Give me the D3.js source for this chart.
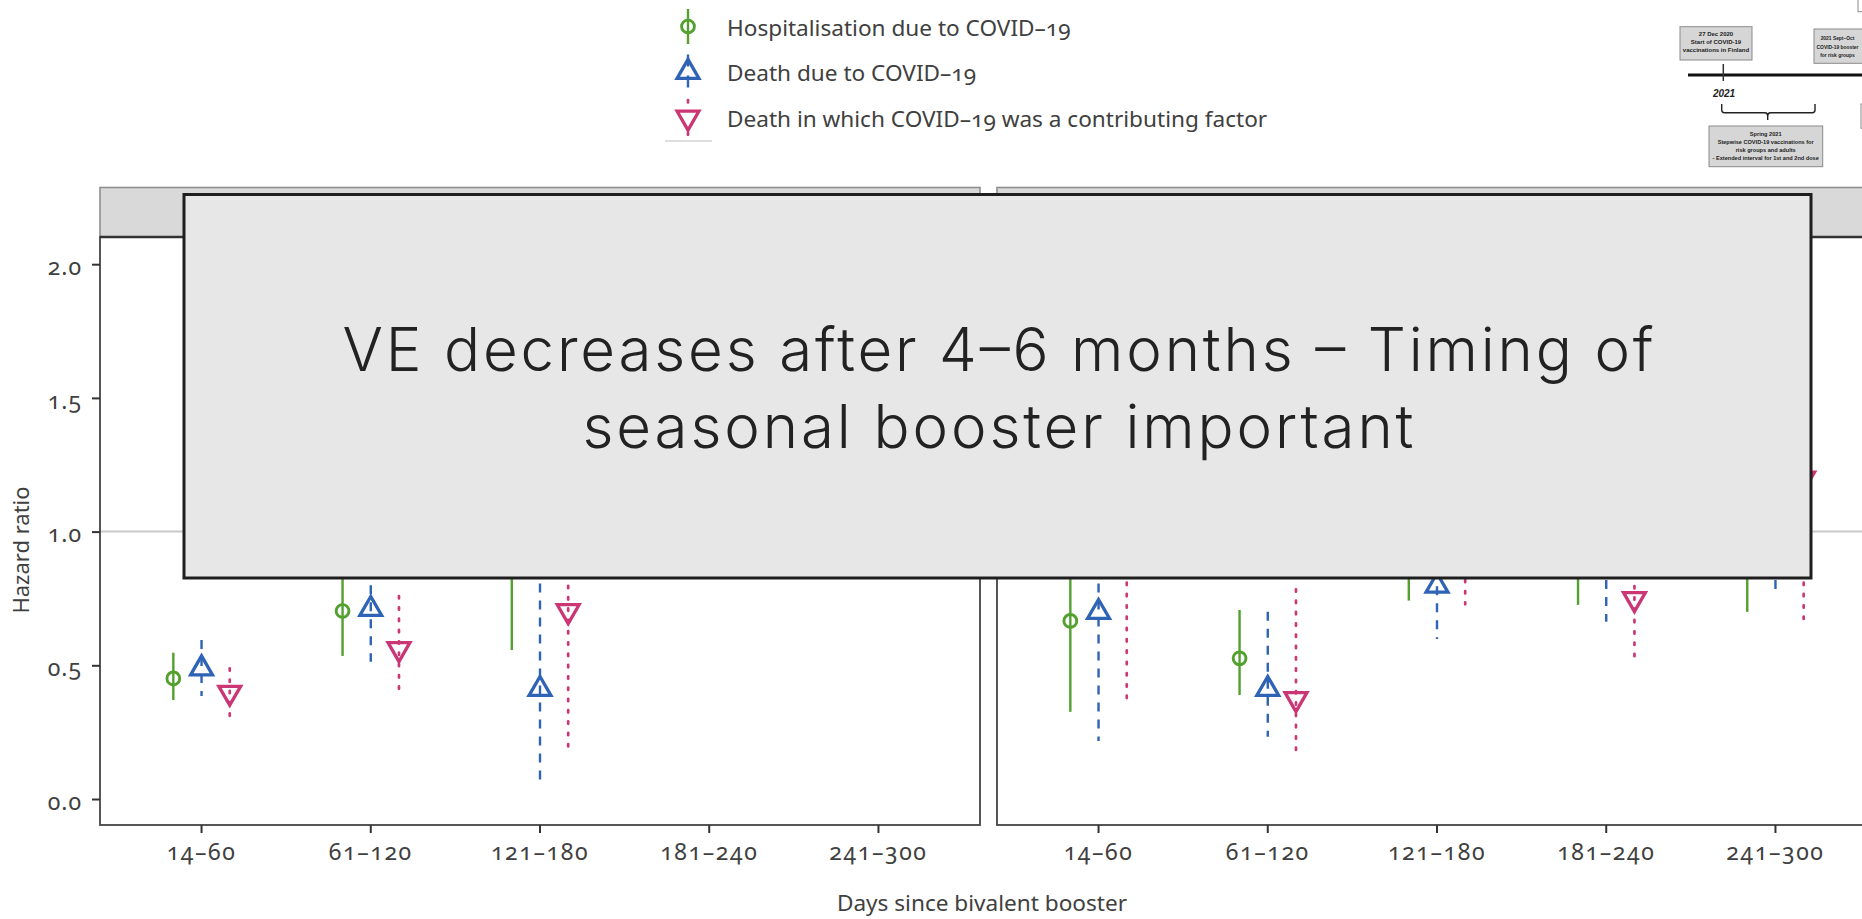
<!DOCTYPE html>
<html>
<head>
<meta charset="utf-8">
<script src="https://cdn.jsdelivr.net/npm/d3@7"></script>
<style>
  html, body { margin: 0; padding: 0; background: #ffffff; }
  svg { display: block; }
  .lbl { font-family: "Noto Sans", "Open Sans", sans-serif; font-variant-numeric: oldstyle-nums; fill: #404040; }
</style>
</head>
<body>
<svg id="chart" width="1862" height="919"></svg>
<script>
// ---------------- DATA ----------------
const categories = ["14–60", "61–120", "121–180", "181–240", "241–300"];
const seriesNames = [
  "Hospitalisation due to COVID–19",
  "Death due to COVID–19",
  "Death in which COVID–19 was a contributing factor"
];
const yTickValues = [0, 0.5, 1.0, 1.5, 2.0];
const yTickLabels = ["0.0", "0.5", "1.0", "1.5", "2.0"];
const referenceValue = 1.0;
const xAxisTitle = "Days since bivalent booster";
const yAxisTitle = "Hazard ratio";

// Left panel (estimate, lower, upper); null = not shown
const leftHospEst  = [0.451, 0.703, 0.90, null, null];
const leftHospLow  = [0.370, 0.535, 0.557, null, null];
const leftHospHigh = [0.547, 0.93, 1.35, null, null];
const leftDeathEst  = [0.488, 0.710, 0.411, null, null];
const leftDeathLow  = [0.385, 0.513, 0.052, null, null];
const leftDeathHigh = [0.595, 0.99, 1.95, null, null];
const leftContribEst  = [0.398, 0.561, 0.703, null, null];
const leftContribLow  = [0.308, 0.408, 0.165, null, null];
const leftContribHigh = [0.489, 0.759, 1.60, null, null];

// Right panel
const rightHospEst  = [0.666, 0.526, 0.95, 0.95, 0.95];
const rightHospLow  = [0.326, 0.389, 0.742, 0.726, 0.700];
const rightHospHigh = [1.20, 0.707, 1.20, 1.25, 1.30];
const rightDeathEst  = [0.699, 0.411, 0.797, 0.90, 0.95];
const rightDeathLow  = [0.217, 0.233, 0.598, 0.663, 0.769];
const rightDeathHigh = [1.95, 0.700, 1.05, 1.20, 1.20];
const rightContribEst  = [0.95, 0.374, 0.95, 0.748, 1.199];
const rightContribLow  = [0.358, 0.181, 0.728, 0.520, 0.673];
const rightContribHigh = [1.95, 0.784, 1.20, 1.05, 1.95];

const overlayLines = ["VE decreases after 4–6 months – Timing of", "seasonal booster important"];

// inset timeline texts
const insetBoxA = ["27 Dec 2020", "Start of COVID-19", "vaccinations in Finland"];
const insetBoxB = ["2021 Sept–Oct", "COVID-19 booster", "for risk groups"];
const insetBoxD = ["Spring 2021", "Stepwise COVID-19 vaccinations for", "risk groups and adults", "- Extended interval for 1st and 2nd dose"];
const insetYear = "2021";

// ---------------- STYLE ----------------
const colors = ["#52a02e", "#2e63b5", "#cb3675"];
const dashes = [null, "9,8", "2.4,8.9"];
const shapes = ["circle", "up", "down"];

const svg = d3.select("#chart");

const panels = [
  { x0: 100, x1: 980, est: [leftHospEst, leftDeathEst, leftContribEst], low: [leftHospLow, leftDeathLow, leftContribLow], high: [leftHospHigh, leftDeathHigh, leftContribHigh], showY: true },
  { x0: 997, x1: 1877, est: [rightHospEst, rightDeathEst, rightContribEst], low: [rightHospLow, rightDeathLow, rightContribLow], high: [rightHospHigh, rightDeathHigh, rightContribHigh], showY: false }
];
const stripTop = 187.5, panelTop = 237, panelBottom = 825;

const y = d3.scaleLinear().domain([-0.0972, 2.1017]).range([panelBottom, panelTop]);

function markerPath(shape, r) {
  const h = r * Math.sqrt(3) / 2;
  if (shape === "up") return `M0,${-r}L${h},${r/2}L${-h},${r/2}Z`;
  return `M0,${r}L${h},${-r/2}L${-h},${-r/2}Z`;
}
function drawMarker(g, shape, cx, cy, color) {
  if (shape === "circle") {
    g.append("circle").attr("cx", cx).attr("cy", cy).attr("r", 6.4)
      .attr("fill", "none").attr("stroke", color).attr("stroke-width", 2.9);
  } else {
    g.append("path").attr("d", markerPath(shape, 12.6))
      .attr("transform", `translate(${cx},${cy})`)
      .attr("fill", "none").attr("stroke", color).attr("stroke-width", 3.3)
      .attr("stroke-linejoin", "miter");
  }
}

const defs = svg.append("defs");

panels.forEach((p, pi) => {
  const clipId = "clip" + pi;
  defs.append("clipPath").attr("id", clipId).append("rect")
    .attr("x", p.x0).attr("y", panelTop).attr("width", p.x1 - p.x0).attr("height", panelBottom - panelTop);

  // ggplot discrete expansion: 0.6 units each side over 5 categories
  const step = (p.x1 - p.x0) / (categories.length + 0.2);
  const x = d3.scaleBand().domain(categories).range([p.x0 + 0.1 * step, p.x1 - 0.1 * step]).padding(0);
  const cxOf = c => x(c) + x.bandwidth() / 2;
  const dodge = x.step() * 0.5 / 3;

  const g = svg.append("g");
  // strip
  g.append("rect").attr("x", p.x0).attr("y", stripTop).attr("width", p.x1 - p.x0).attr("height", panelTop - stripTop)
    .attr("fill", "#d9d9d9").attr("stroke", "#8f8f8f").attr("stroke-width", 1.6);

  // reference line
  g.append("line").attr("x1", p.x0).attr("x2", p.x1).attr("y1", y(referenceValue)).attr("y2", y(referenceValue))
    .attr("stroke", "#c9c9c9").attr("stroke-width", 2);

  // data
  const dg = g.append("g").attr("clip-path", `url(#${clipId})`);
  [0, 1, 2].forEach(si => {
    categories.forEach((c, ci) => {
      const est = p.est[si][ci], lo = p.low[si][ci], hi = p.high[si][ci];
      if (est === null) return;
      const cx = cxOf(c) + (si - 1) * dodge;
      dg.append("line").attr("x1", cx).attr("x2", cx).attr("y1", y(hi)).attr("y2", y(lo))
        .attr("stroke", colors[si]).attr("stroke-width", si === 2 ? 2.7 : 2.4)
        .attr("stroke-dasharray", dashes[si]).attr("stroke-linecap", si === 2 ? "round" : "butt");
      drawMarker(dg, shapes[si], cx, y(est), colors[si]);
    });
  });

  // panel border
  g.append("rect").attr("x", p.x0).attr("y", panelTop).attr("width", p.x1 - p.x0).attr("height", panelBottom - panelTop)
    .attr("fill", "none").attr("stroke", "#444").attr("stroke-width", 1.8);
  g.append("line").attr("x1", p.x0).attr("x2", p.x1).attr("y1", panelTop).attr("y2", panelTop)
    .attr("stroke", "#333").attr("stroke-width", 2.6);

  // x axis
  const xAxis = d3.axisBottom(x).tickSize(8).tickPadding(6).tickSizeOuter(0);
  const xa = g.append("g").attr("transform", `translate(0,${panelBottom})`).call(xAxis);
  xa.select(".domain").remove();
  xa.selectAll(".tick line").attr("stroke", "#333").attr("stroke-width", 2);
  xa.selectAll(".tick text").attr("class", "lbl").attr("font-size", 23).attr("letter-spacing", 1.6)
    .attr("dy", null).attr("y", 35);

  if (p.showY) {
    const yAxis = d3.axisLeft(y).tickValues(yTickValues).tickFormat((d, i) => yTickLabels[i]).tickSize(8).tickPadding(10);
    const ya = g.append("g").attr("transform", `translate(${p.x0},0)`).call(yAxis);
    ya.select(".domain").remove();
    ya.selectAll(".tick line").attr("stroke", "#333").attr("stroke-width", 2);
    ya.selectAll(".tick text").attr("class", "lbl").attr("font-size", 23).attr("letter-spacing", 1).attr("dy", "0.45em");
  }
});

// axis titles
svg.append("text").attr("class", "lbl").attr("x", 982).attr("y", 911).attr("text-anchor", "middle")
  .attr("font-size", 22.6).text(xAxisTitle);
svg.append("text").attr("class", "lbl").attr("transform", "translate(29,550) rotate(-90)").attr("text-anchor", "middle")
  .attr("font-size", 22).text(yAxisTitle);

// legend
const legendRows = [26.5, 72, 117.5];
const lg = svg.append("g");
seriesNames.forEach((name, si) => {
  const cy = legendRows[si], cx = 688;
  lg.append("line").attr("x1", cx).attr("x2", cx).attr("y1", cy - 17.5).attr("y2", cy + 17.5)
    .attr("stroke", colors[si]).attr("stroke-width", si === 2 ? 2.7 : 2.4)
    .attr("stroke-dasharray", si === 1 ? "12,9" : (si === 2 ? "2.4,30" : null))
    .attr("stroke-linecap", si === 2 ? "round" : "butt");
  drawMarker(lg, shapes[si], cx, cy, colors[si]);
  lg.append("text").attr("class", "lbl").attr("x", 727).attr("y", cy + 9).attr("font-size", 22.6).text(name);
});
lg.append("line").attr("x1", 665).attr("x2", 712).attr("y1", 141).attr("y2", 141).attr("stroke", "#dedede").attr("stroke-width", 2);

// overlay box
const og = svg.append("g");
og.append("rect").attr("x", 184).attr("y", 194.5).attr("width", 1627).attr("height", 383.5)
  .attr("fill", "#e7e7e7").attr("stroke", "#1e1e1e").attr("stroke-width", 3);
const overlayWidths = [1311, 831];
overlayLines.forEach((t, i) => {
  og.append("text").attr("x", 998).attr("y", [371, 447.5][i]).attr("text-anchor", "middle")
    .attr("font-family", "Inter, Roboto, 'Open Sans', sans-serif").attr("font-weight", 300)
    .attr("font-size", 60).attr("fill", "#222")
    .attr("textLength", overlayWidths[i]).attr("lengthAdjust", "spacing").text(t);
});

// inset timeline (top right)
const ig = svg.append("g").attr("font-family", "'Liberation Sans', Arial, sans-serif").attr("font-weight", "bold").attr("fill", "#222");
function insetBox(x0, y0, w, h, lines, cx, firstY, lh, fs) {
  ig.append("rect").attr("x", x0).attr("y", y0).attr("width", w).attr("height", h)
    .attr("fill", "#d6d6d6").attr("stroke", "#8a8a8a").attr("stroke-width", 1);
  lines.forEach((t, i) => {
    ig.append("text").attr("x", cx).attr("y", firstY + i * lh).attr("text-anchor", "middle")
      .attr("font-size", fs).text(t);
  });
}
insetBox(1680, 26.7, 72, 33.3, insetBoxA, 1716, 36, 8, 6);
insetBox(1814, 29, 60, 34.3, insetBoxB, 1837.5, 40.3, 8.3, 4.9);
insetBox(1709, 126, 113.7, 40.7, insetBoxD, 1765.7, 136.3, 7.8, 5.6);
ig.append("rect").attr("x", 1858).attr("y", -2).attr("width", 20).attr("height", 13.7).attr("fill", "#fff").attr("stroke", "#8a8a8a").attr("stroke-width", 1);
ig.append("rect").attr("x", 1861).attr("y", 104).attr("width", 20).attr("height", 24.3).attr("fill", "#fff").attr("stroke", "#8a8a8a").attr("stroke-width", 1);
ig.append("line").attr("x1", 1688).attr("x2", 1862).attr("y1", 75).attr("y2", 75).attr("stroke", "#111").attr("stroke-width", 3);
ig.append("line").attr("x1", 1723.3).attr("x2", 1723.3).attr("y1", 64).attr("y2", 81).attr("stroke", "#333").attr("stroke-width", 1.5);
ig.append("text").attr("x", 1724).attr("y", 97.3).attr("text-anchor", "middle").attr("font-size", 10)
  .attr("font-style", "italic").text(insetYear);
ig.append("path").attr("d", "M1721.7,104 L1721.7,110 Q1721.7,112.7 1724.5,112.7 L1765,112.7 Q1767.7,112.7 1767.7,116 L1767.7,120 M1767.7,116 Q1767.7,112.7 1770.5,112.7 L1812.3,112.7 Q1815,112.7 1815,110 L1815,104")
  .attr("fill", "none").attr("stroke", "#222").attr("stroke-width", 1.4);
</script>
</body>
</html>
